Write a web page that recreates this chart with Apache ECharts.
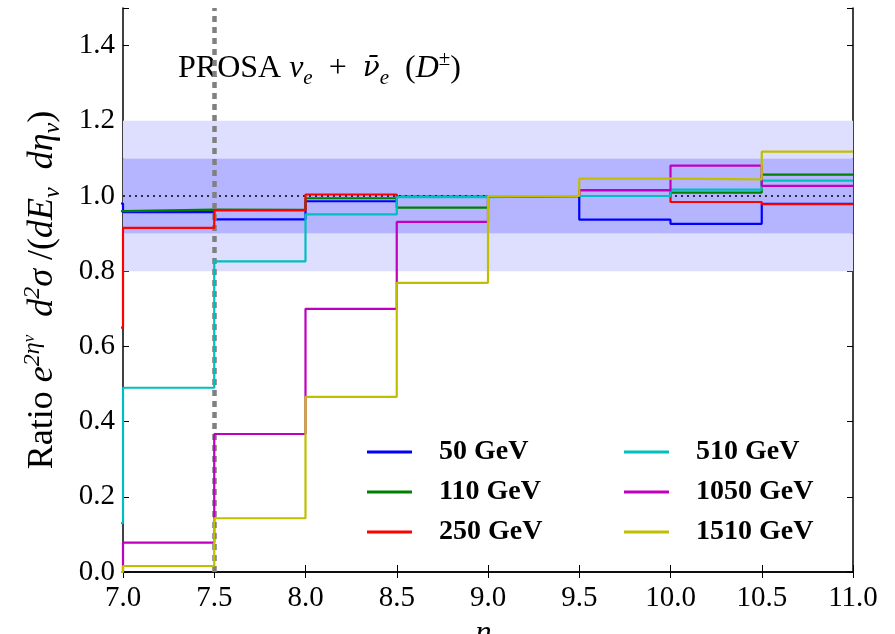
<!DOCTYPE html>
<html>
<head>
    <meta charset="utf-8">
    <title>PROSA ratio</title>
    <script src="https://cdn.jsdelivr.net/npm/echarts@6/dist/echarts.min.js"></script>
</head>
<body style="margin:0">
<div id="main" style="width: 895px;height:634px;"></div>
<script type="text/javascript">
    // bin left edges (first bin lies outside the visible range), last entry closes the final bin
    var binEdges = [6.5, 7.0, 7.5, 8.0, 8.5, 9.0, 9.5, 10.0, 10.5, 11.0];
    var xTicks = [7.0, 7.5, 8.0, 8.5, 9.0, 9.5, 10.0, 10.5, 11.0];
    var yTicks = [0.0, 0.2, 0.4, 0.6, 0.8, 1.0, 1.2, 1.4];

    var names = ['50 GeV', '110 GeV', '250 GeV', '510 GeV', '1050 GeV', '1510 GeV'];
    var colors = ['#0000ff', '#008000', '#ff0000', '#00bfbf', '#bf00bf', '#bfbf00'];

    // ratio per bin
    var r50   = [0.98, 0.957, 0.938, 0.986, 0.998, 1.0, 0.937, 0.926, 0.979];
    var r110  = [0.96, 0.964, 0.963, 0.994, 0.969, 1.0, 1.0, 1.009, 1.057];
    var r250  = [0.65, 0.915, 0.962, 1.004, 0.998, 1.0, 1.016, 0.984, 0.978];
    var r510  = [0.13, 0.49, 0.826, 0.951, 0.997, 1.0, 1.0, 1.017, 1.041];
    var r1050 = [0.0, 0.078, 0.367, 0.70, 0.931, 1.0, 1.015, 1.081, 1.027];
    var r1510 = [0.0, 0.016, 0.143, 0.466, 0.769, 1.0, 1.046, 1.044, 1.118];

    var outerBand = [0.8, 1.2];
    var innerBand = [0.9, 1.1];
    var cutEta = 7.5;

    var allVals = [r50, r110, r250, r510, r1050, r1510];

    function steps(vals) {
        return binEdges.map(function (x, i) {
            return [x, i < vals.length ? vals[i] : vals[vals.length - 1]];
        });
    }

    var serif = 'Liberation Serif';
    var myChart = echarts.init(document.getElementById('main'));

    var series = [];
    // bands
    series.push({
        name: 'bands', type: 'line', z: 1, symbol: 'none', silent: true,
        data: [[7, 1], [11, 1]],
        lineStyle: {opacity: 0},
        markArea: {
            silent: true,
            data: [
                [{yAxis: outerBand[0], itemStyle: {color: '#dedeff'}}, {yAxis: innerBand[0]}],
                [{yAxis: innerBand[1], itemStyle: {color: '#dedeff'}}, {yAxis: outerBand[1]}],
                [{yAxis: innerBand[0], itemStyle: {color: '#b4b4ff'}}, {yAxis: innerBand[1]}]
            ]
        }
    });
    allVals.forEach(function (vals, k) {
        series.push({
            name: names[k], type: 'line', step: 'end', symbol: 'none', z: 3 + k,
            data: steps(vals),
            itemStyle: {color: colors[k]},
            lineStyle: {color: colors[k], width: 2.2}
        });
    });
    // reference lines on top
    series.push({
        name: 'refs', type: 'line', z: 20, symbol: 'none', silent: true,
        data: [[7, 1], [11, 1]],
        lineStyle: {opacity: 0},
        markLine: {
            silent: true, symbol: 'none', label: {show: false},
            data: [
                {yAxis: 1.0, lineStyle: {color: '#000', type: [2, 4], width: 1.6}},
                {xAxis: cutEta, lineStyle: {color: '#808080', type: [6, 5], width: 4.5}}
            ]
        }
    });

    var option = {
        animation: false,
        backgroundColor: '#fff',
        grid: {left: 123, right: 42, top: 8, bottom: 62, containLabel: false, outerBoundsMode: 'none'},
        graphic: [{
            type: 'text', left: 178, top: 49,
            style: {
                text: '{n|PROSA }{i|ν}{sb|e}{n|  +  }{m|ν\u0304}{sb|e}{n|  (}{i|D}{sp|±}{n|)}',
                rich: {
                    n: {fontFamily: serif, fontSize: 32, lineHeight: 40, verticalAlign: 'middle', fill: '#000'},
                    i: {fontFamily: serif, fontStyle: 'italic', fontSize: 32, lineHeight: 40, verticalAlign: 'middle', fill: '#000'},
                    m: {fontFamily: 'DejaVu Serif', fontStyle: 'italic', fontSize: 28, lineHeight: 40, verticalAlign: 'middle', fill: '#000'},
                    sb: {fontFamily: serif, fontStyle: 'italic', fontSize: 21, lineHeight: 21, verticalAlign: 'bottom', fill: '#000'},
                    sp: {fontFamily: serif, fontSize: 21, lineHeight: 21, verticalAlign: 'top', fill: '#000'}
                }
            }
        }],
        legend: [{
            data: names.slice(0, 3), orient: 'vertical', left: 362, top: 433,
            icon: 'rect', itemWidth: 45, itemHeight: 3, itemGap: 12,
            textStyle: {fontFamily: serif, fontWeight: 'bold', fontSize: 28, color: '#000', padding: [0, 0, 0, 22]}
        }, {
            data: names.slice(3), orient: 'vertical', left: 619, top: 433,
            icon: 'rect', itemWidth: 45, itemHeight: 3, itemGap: 12,
            textStyle: {fontFamily: serif, fontWeight: 'bold', fontSize: 28, color: '#000', padding: [0, 0, 0, 22]}
        }],
        xAxis: [{
            type: 'value', min: 7, max: 11, interval: 0.5,
            name: '{i|η}{sb|ν}', nameLocation: 'middle', nameGap: 42,
            nameTextStyle: {
                rich: {
                    i: {fontFamily: serif, fontStyle: 'italic', fontSize: 32, lineHeight: 34, verticalAlign: 'middle', color: '#000'},
                    sb: {fontFamily: serif, fontStyle: 'italic', fontSize: 21, lineHeight: 21, verticalAlign: 'bottom', color: '#000'}
                }
            },
            axisLine: {lineStyle: {color: '#000', width: 1.5}},
            axisTick: {inside: true, length: 7, lineStyle: {color: '#000'}},
            axisLabel: {
                fontFamily: serif, fontSize: 29, color: '#000', margin: 12,
                formatter: function (v) { return v.toFixed(1); }
            },
            splitLine: {show: false}
        }, {
            type: 'value', position: 'top', min: 7, max: 11, interval: 0.5,
            axisLine: {show: true, lineStyle: {color: '#000', width: 1.5}},
            axisTick: {inside: true, length: 6, lineStyle: {color: '#000'}},
            axisLabel: {show: false},
            splitLine: {show: false}
        }],
        yAxis: [{
            type: 'value', min: 0, max: 1.5, interval: 0.2,
            name: '{n|Ratio }{i|e}{sp|2η}{ss|ν}{i|  d}{sp|2}{i|σ}{n| /(}{i|dE}{sb|ν}{i|  dη}{sb|ν}{n|)}',
            nameLocation: 'middle', nameRotate: 90, nameGap: 58,
            nameTextStyle: {
                rich: {
                    n: {fontFamily: serif, fontSize: 36, lineHeight: 44, verticalAlign: 'middle', color: '#000'},
                    i: {fontFamily: serif, fontStyle: 'italic', fontSize: 36, lineHeight: 44, verticalAlign: 'middle', color: '#000'},
                    sp: {fontFamily: serif, fontStyle: 'italic', fontSize: 24, lineHeight: 24, verticalAlign: 'top', color: '#000'},
                    ss: {fontFamily: serif, fontStyle: 'italic', fontSize: 17, lineHeight: 28, verticalAlign: 'top', color: '#000'},
                    sb: {fontFamily: serif, fontStyle: 'italic', fontSize: 24, lineHeight: 24, verticalAlign: 'bottom', color: '#000'}
                }
            },
            axisLine: {lineStyle: {color: '#000', width: 1.5}},
            axisTick: {inside: true, length: 6, lineStyle: {color: '#000'}},
            axisLabel: {
                fontFamily: serif, fontSize: 29, color: '#000', margin: 8,
                formatter: function (v) { return v > 1.45 ? '' : v.toFixed(1); }
            },
            splitLine: {show: false}
        }, {
            type: 'value', position: 'right', min: 0, max: 1.5, interval: 0.2,
            axisLine: {show: true, lineStyle: {color: '#000', width: 1.5}},
            axisTick: {inside: true, length: 6, lineStyle: {color: '#000'}},
            axisLabel: {show: false},
            splitLine: {show: false}
        }],
        series: series
    };

    myChart.setOption(option);
</script>
</body>
</html>
